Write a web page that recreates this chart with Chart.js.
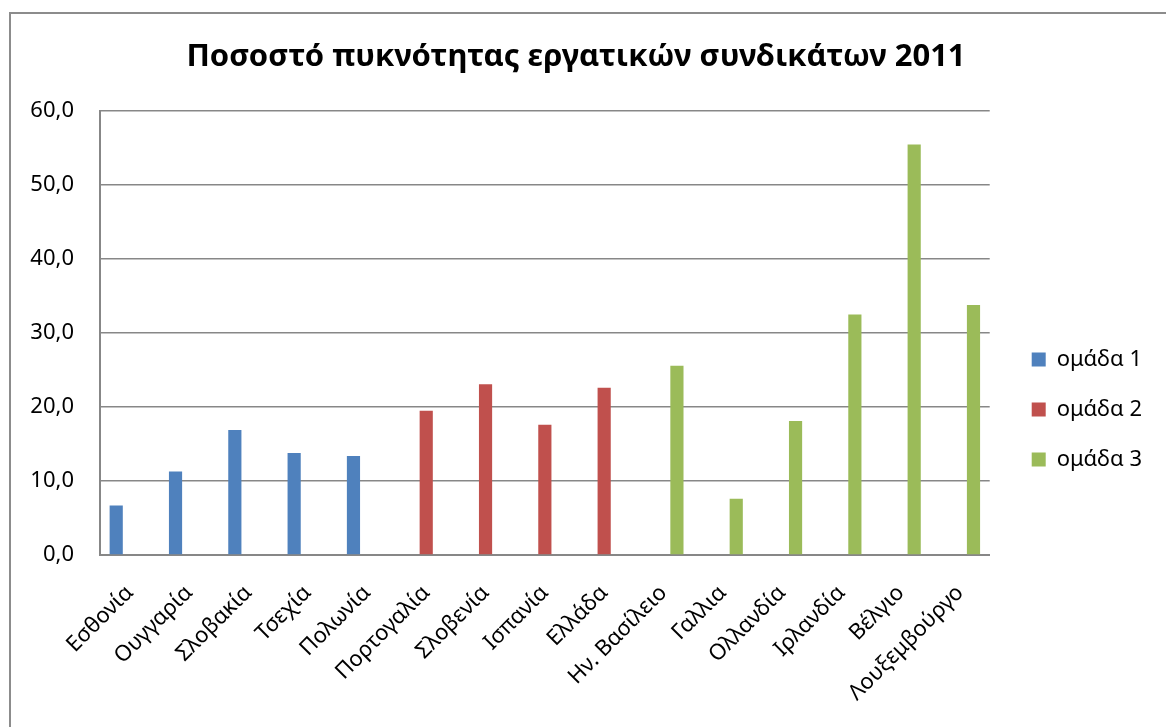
<!DOCTYPE html>
<html>
<head>
<meta charset="utf-8">
<script src="https://cdn.jsdelivr.net/npm/chart.js@4.4.1/dist/chart.umd.min.js"></script>
<style>
	html, body { margin:0; padding:0; background:#fff; overflow:hidden; }
	#wrap { position:relative; width:1166px; height:727px; }
	#frame { position:absolute; left:9px; top:12px; width:2000px; height:2000px; border:2px solid #8c8c8c; pointer-events:none; }
</style>
</head>
<body>
<div id="wrap">
	<canvas id="unionChart"></canvas>
	<div id="frame"></div>
</div>
<script>
var categories = ["Εσθονία","Ουγγαρία","Σλοβακία","Τσεχία","Πολωνία","Πορτογαλία","Σλοβενία","Ισπανία","Ελλάδα","Ην. Βασίλειο","Γαλλια","Ολλανδία","Ιρλανδία","Βέλγιο","Λουξεμβούργο"];
var group1 = [6.7, 11.3, 16.9, 13.8, 13.4, null, null, null, null, null, null, null, null, null, null];
var group2 = [null, null, null, null, null, 19.5, 23.1, 17.6, 22.6, null, null, null, null, null, null];
var group3 = [null, null, null, null, null, null, null, null, null, 25.6, 7.6, 18.1, 32.5, 55.5, 33.8];
var seriesNames = ["ομάδα 1","ομάδα 2","ομάδα 3"];
var yTicks = [0, 10, 20, 30, 40, 50, 60];

var FONT = "'Noto Sans', sans-serif";
var gridColor = "#878787";

initChart();

function initChart(){

	var makeSet = function(name, data, color){
		return {
			label: name,
			data: data,
			backgroundColor: color,
			borderColor: color,
			borderWidth: 0,
			barPercentage: 0.98,
			categoryPercentage: 0.68
		};
	};

	var chartData = {
		labels: categories,
		datasets: [
			makeSet(seriesNames[0], group1, "#4f81bd"),
			makeSet(seriesNames[1], group2, "#c0504d"),
			makeSet(seriesNames[2], group3, "#9bbb59")
		]
	};

	var chartOptions = {
		responsive: true,
		maintainAspectRatio: false,
		animation: false,
		layout: { padding: { left: 0, right: 14, top: 0, bottom: 0 } },
		plugins: {
			title: {
				display: true,
				text: "Ποσοστό πυκνότητας εργατικών συνδικάτων 2011",
				color: "#000",
				font: { family: FONT, size: 31, weight: "bold" },
				padding: { top: 39, bottom: 35 }
			},
			legend: {
				display: true,
				position: "right",
				title: { display: true, text: " ", font: { size: 10 }, padding: { top: 40, bottom: 40 } },
				labels: {
					color: "#000",
					font: { family: FONT, size: 22 },
					boxWidth: 14,
					boxHeight: 14,
					padding: 28
				}
			},
			tooltip: { enabled: false }
		},
		scales: {
			x: {
				grid: { display: false, drawTicks: false },
				border: { display: true, color: gridColor, width: 2 },
				ticks: {
					color: "#000",
					font: { family: FONT, size: 22 },
					minRotation: 45,
					maxRotation: 45,
					autoSkip: false,
					padding: 25
				},
				afterFit: function(scale){ scale.height = 172; }
			},
			y: {
				min: 0,
				max: 60,
				afterBuildTicks: function(scale){
					scale.ticks = yTicks.map(function(v){ return { value: v }; });
				},
				grid: { color: gridColor, lineWidth: 1.6, drawTicks: false },
				border: { display: true, color: gridColor, width: 2 },
				ticks: {
					color: "#000",
					font: { family: FONT, size: 22 },
					padding: 26,
					callback: function(v){ return Number(v).toFixed(1).replace(".", ","); }
				},
				afterFit: function(scale){ scale.width = 100; }
			},
			// empty spacer between plot and legend
			gap: {
				position: "right",
				display: true,
				grid: { display: false, drawTicks: false },
				border: { display: false },
				ticks: { display: false },
				afterFit: function(scale){ scale.width = 14; }
			}
		}
	};

	new Chart(document.getElementById("unionChart"), {
		type: "bar",
		data: chartData,
		options: chartOptions
	});
}
</script>
</body>
</html>
